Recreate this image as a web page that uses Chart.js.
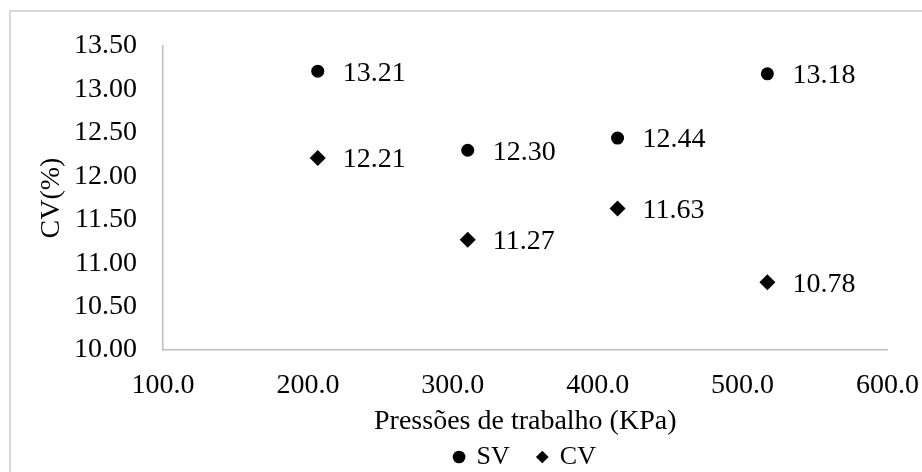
<!DOCTYPE html>
<html>
<head>
<meta charset="utf-8">
<script src="https://cdn.jsdelivr.net/npm/chart.js@4"></script>
<style>
	html, body { margin: 0; padding: 0; background: #fff; overflow: hidden; }
	#wrap { position: absolute; left: 0; top: 0; width: 938px; height: 472px; }
</style>
</head>
<body>
<div id="wrap"><canvas id="cv-chart" width="938" height="472"></canvas></div>
<script>
const pressures = [206.8, 310.3, 413.7, 517.1];
const svValues = [13.21, 12.3, 12.44, 13.18];
const cvValues = [12.21, 11.27, 11.63, 10.78];
const seriesNames = ["SV", "CV"];
const xTitle = "Pressões de trabalho (KPa)";
const yTitle = "CV(%)";

const FONT = "'Liberation Serif', 'Times New Roman', serif";

const toPoints = (values) => {
	return values.map((v, i) => {
		return { x: pressures[i], y: v };
	});
};

// outer frame of the chart area (only top and left edge are visible)
const frame = {
	id: "frame",
	beforeDraw(chart) {
		const ctx = chart.ctx;
		ctx.save();
		ctx.strokeStyle = "#d9d9d9";
		ctx.lineWidth = 2;
		ctx.beginPath();
		ctx.moveTo(10, chart.height);
		ctx.lineTo(10, 11);
		ctx.lineTo(chart.width, 11);
		ctx.stroke();
		ctx.restore();
	},
};

// legend is centred under the plot area, not under the canvas
const centerLegend = {
	id: "centerLegend",
	afterLayout(chart) {
		const lg = chart.legend;
		const area = chart.chartArea;
		const shift = (area.left + area.right) / 2 - (lg.left + lg.right) / 2;
		lg.left += shift;
		lg.right += shift;
	},
};

// value labels to the right of every point
const valueLabels = {
	id: "valueLabels",
	afterDatasetsDraw(chart) {
		const ctx = chart.ctx;
		ctx.save();
		ctx.font = "28px " + FONT;
		ctx.fillStyle = "#000";
		ctx.textBaseline = "middle";
		ctx.textAlign = "left";
		chart.data.datasets.forEach((ds, i) => {
			chart.getDatasetMeta(i).data.forEach((pt, j) => {
				ctx.fillText(ds.data[j].y.toFixed(2), pt.x + 25, pt.y + 2);
			});
		});
		ctx.restore();
	},
};

new Chart(document.getElementById("cv-chart"), {
	type: "scatter",
	data: {
		datasets: [
			{
				label: seriesNames[0],
				data: toPoints(svValues),
				pointStyle: "circle",
				pointRadius: 6.5,
				pointHoverRadius: 6.5,
				backgroundColor: "#000",
				borderColor: "#000",
				borderWidth: 0,
			},
			{
				label: seriesNames[1],
				data: toPoints(cvValues),
				pointStyle: "rectRot",
				pointRadius: 8,
				pointHoverRadius: 8,
				backgroundColor: "#000",
				borderColor: "#000",
				borderWidth: 0,
			},
		],
	},
	options: {
		responsive: false,
		animation: false,
		layout: {
			padding: { top: 46, right: 35, left: 0, bottom: -8 },
		},
		scales: {
			x: {
				type: "linear",
				min: 100,
				max: 600,
				grid: { display: false, drawTicks: false },
				border: { display: true, color: "#bfbfbf", width: 1.5 },
				ticks: {
					stepSize: 100,
					padding: 19,
					color: "#000",
					font: { family: FONT, size: 28 },
					maxRotation: 0,
					callback: (v) => v.toFixed(1),
				},
				title: {
					display: true,
					text: xTitle,
					color: "#000",
					font: { family: FONT, size: 28 },
					padding: { top: 0, bottom: -22 },
				},
				afterFit: (s) => {
					s.height = 66;
				},
			},
			y: {
				min: 10,
				max: 13.5,
				grid: { display: false, drawTicks: false },
				border: { display: true, color: "#bfbfbf", width: 1.5 },
				ticks: {
					stepSize: 0.5,
					padding: 26,
					color: "#000",
					font: { family: FONT, size: 28 },
					callback: (v) => v.toFixed(2),
				},
				title: {
					display: true,
					text: yTitle,
					color: "#000",
					font: { family: FONT, size: 28 },
					padding: { top: 35, bottom: 0 },
				},
				afterFit: (s) => {
					s.width = 163;
				},
			},
		},
		plugins: {
			legend: {
				position: "bottom",
				labels: {
					usePointStyle: true,
					boxHeight: 9,
					boxWidth: 9,
					padding: 28,
					color: "#000",
					font: { family: FONT, size: 26 },
				},
			},
			tooltip: { enabled: false },
		},
	},
	plugins: [frame, centerLegend, valueLabels],
});
</script>
</body>
</html>
